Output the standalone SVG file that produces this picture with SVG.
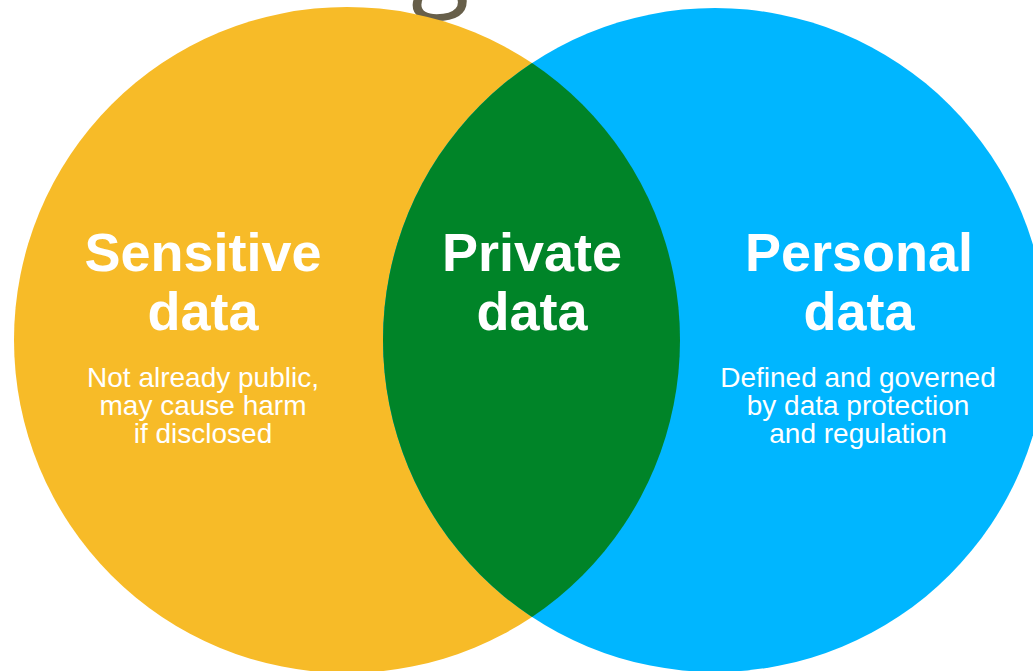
<svg xmlns="http://www.w3.org/2000/svg" width="1033" height="671" viewBox="0 0 1033 671">
  <style>
    .title { font-family: "Liberation Sans", Arial, sans-serif; font-weight: bold; font-size: 54px; fill: #ffffff; text-anchor: middle; }
    .desc { font-family: "Liberation Sans", Arial, sans-serif; font-size: 28px; fill: #ffffff; text-anchor: middle; }
    .head { font-family: "Open Sans", sans-serif; font-size: 108px; fill: #675f4a; }
  </style>
  <defs>
    <clipPath id="leftClip">
      <circle cx="347" cy="340" r="333"/>
    </clipPath>
  </defs>
  <rect width="1033" height="671" fill="#ffffff"/>
  <text class="head" x="411" y="-5">g</text>
  <g id="sensitive">
    <circle cx="347" cy="340" r="333" fill="#f7bb28"/>
  </g>
  <g id="personal">
    <circle cx="715" cy="340" r="332" fill="#00b6ff"/>
  </g>
  <g id="private">
    <circle cx="715" cy="340" r="332" fill="#008428" clip-path="url(#leftClip)"/>
  </g>
  <g id="connectors"></g>
  <g id="labels">
    <text class="title" x="203" y="271">Sensitive</text>
    <text class="title" x="203" y="330">data</text>
    <text class="desc" x="203" y="387">Not already public,</text>
    <text class="desc" x="203" y="415">may cause harm</text>
    <text class="desc" x="203" y="443">if disclosed</text>
    <text class="title" x="532" y="271">Private</text>
    <text class="title" x="532" y="330">data</text>
    <text class="title" x="859" y="271">Personal</text>
    <text class="title" x="859" y="330">data</text>
    <text class="desc" x="858" y="387">Defined and governed</text>
    <text class="desc" x="858" y="415">by data protection</text>
    <text class="desc" x="858" y="443">and regulation</text>
  </g>
</svg>
